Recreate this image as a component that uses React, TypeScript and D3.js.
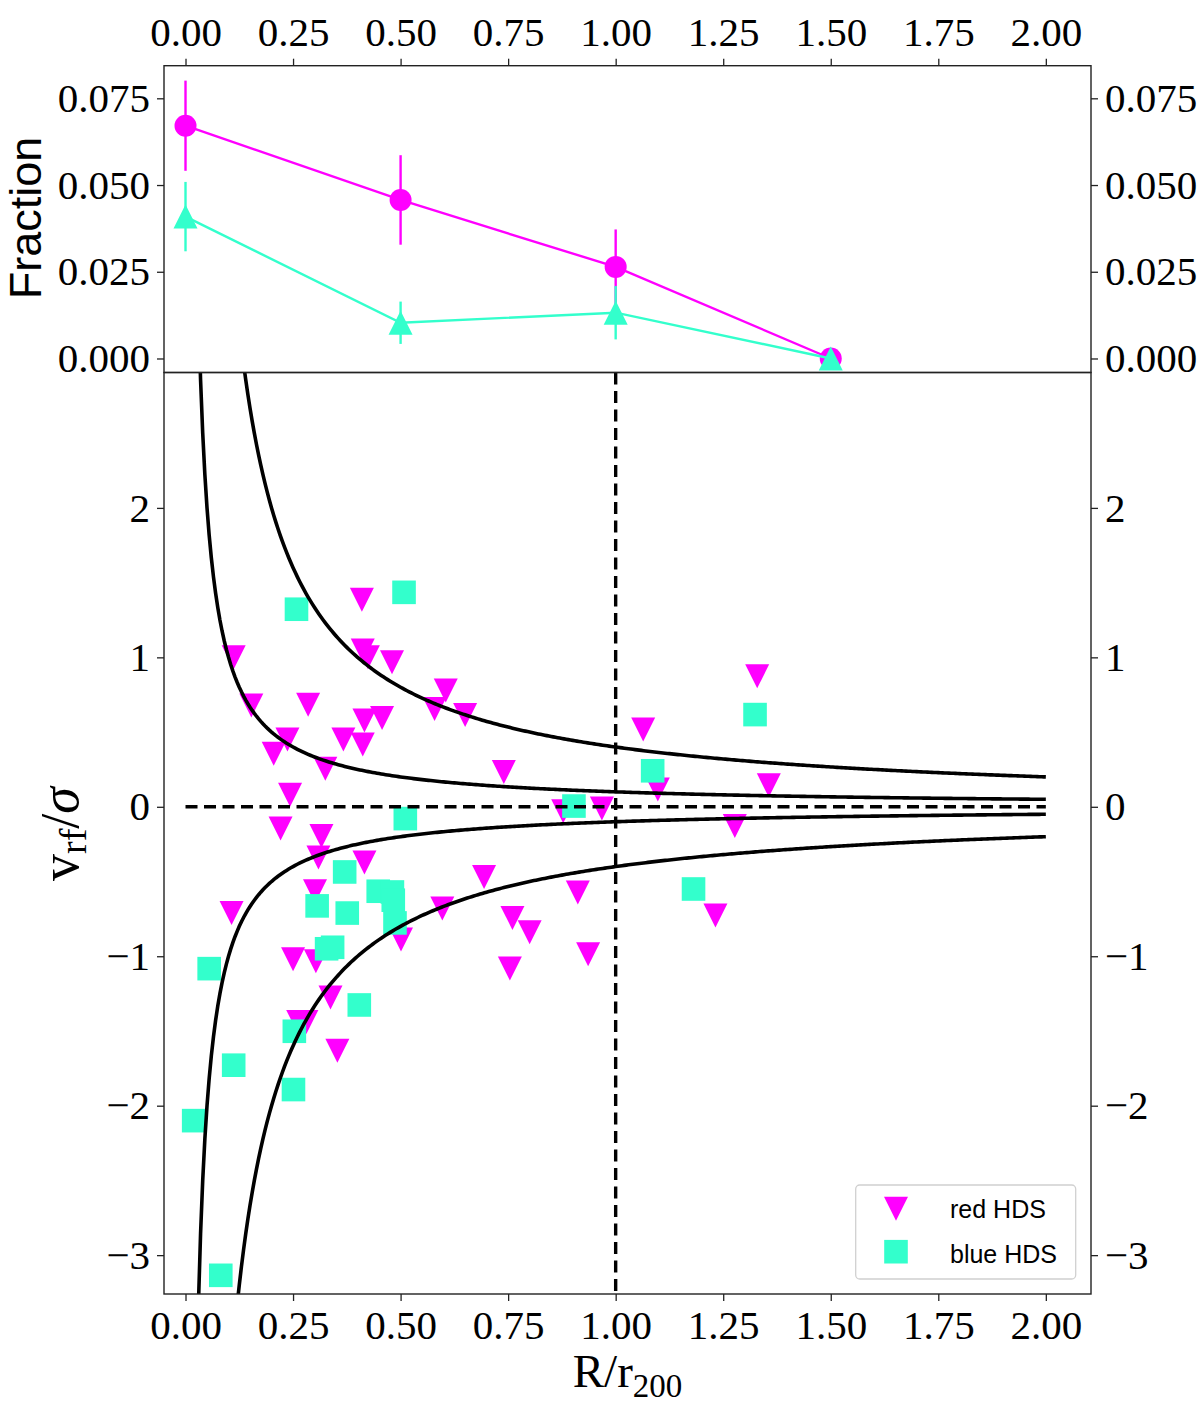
import {useEffect, useRef} from "react";
import * as d3 from "d3"

const W = 1200
const H = 1419
const frame = {left: 164, right: 1091, top: 65.7, mid: 372.5, bottom: 1294}

const magenta = "#ff00ff"
const teal = "#33ffcc"
const serif = "'Liberation Serif', 'DejaVu Serif', serif"
const sans = "'Liberation Sans', 'DejaVu Sans', sans-serif"

// top panel: fraction of HDS per radial bin
const fracR = [0, 0.5, 1.0, 1.5]
const redFrac = [0.0671, 0.0457, 0.0264, 0.0]
const redFracErr = [0.013, 0.0129, 0.0108, 0]
const blueFrac = [0.0409, 0.0103, 0.0132, 0.0]
const blueFracErr = [0.010, 0.0061, 0.0077, 0]

// bottom panel: phase space
const redR = [0.410, 0.412, 0.424, 0.480, 0.112, 0.153, 0.285, 0.605, 0.579, 0.650,
    0.416, 0.457, 0.367, 0.412, 0.237, 0.205, 0.325, 0.243, 0.221, 0.316,
    0.309, 0.416, 0.694, 0.301, 0.107, 0.597, 0.501, 0.250, 0.303, 0.337,
    0.262, 0.281, 0.353, 1.329, 1.064, 1.098, 0.740, 1.356, 0.878, 0.968,
    1.277, 0.912, 0.760, 0.800, 0.754, 0.936, 1.232]
const redV = [1.385, 1.045, 1.0, 0.967, 1.0, 0.678, 0.682, 0.778, 0.655, 0.615,
    0.577, 0.595, 0.45, 0.417, 0.45, 0.355, 0.255, 0.081, -0.146, -0.195,
    -0.34, -0.373, -0.47, -0.565, -0.71, -0.681, -0.888, -1.02, -1.033, -1.276,
    -1.44, -1.44, -1.633, 0.873, 0.518, 0.115, 0.233, 0.144, -0.03, -0.012,
    -0.128, -0.574, -0.744, -0.84, -1.082, -0.987, -0.728]
const blueR = [0.511, 0.370, 0.448, 0.481, 0.483, 0.487, 0.306, 0.376, 0.328, 0.342,
    0.055, 0.404, 0.253, 0.112, 0.251, 0.019, 0.082, 1.324, 1.086, 0.903,
    1.181, 0.258, 0.508]
const blueV = [-0.079, -0.436, -0.565, -0.57, -0.625, -0.777, -0.663, -0.711, -0.95, -0.94,
    -1.083, -1.326, -1.502, -1.729, -1.892, -2.10, -3.135, 0.617, 0.241, 0.005,
    -0.55, 1.322, 1.435]

// escape-velocity-like envelopes v = +/- k / R
const envelopeK = [0.1, 0.4]

const xTicks = [0, 0.25, 0.5, 0.75, 1, 1.25, 1.5, 1.75, 2]
const fracTicks = [0, 0.025, 0.05, 0.075]
const vTicks = [-3, -2, -1, 0, 1, 2]

const triUp = (s: number) => `M0,${-s}L${-s},${s}L${s},${s}Z`
const triDown = (s: number) => `M0,${s}L${-s},${-s}L${s},${-s}Z`

const App = () => {
    const svgRef = useRef(null)

    useEffect(() => {
        const svg = d3.select(svgRef.current)
        svg.selectAll("*").remove()

        const x = d3.scaleLinear().domain([-0.05, 2.105]).range([frame.left, frame.right])
        const yTop = d3.scaleLinear().domain([-0.00404, 0.0844]).range([frame.mid, frame.top])
        const yBot = d3.scaleLinear().domain([-3.26, 2.906]).range([frame.bottom, frame.mid])

        svg.append("clipPath").attr("id", "botClip")
            .append("rect")
            .attr("x", frame.left).attr("y", frame.mid)
            .attr("width", frame.right - frame.left).attr("height", frame.bottom - frame.mid)

        // ---------- top panel ----------
        const top = svg.append("g")
        const series = [
            {vals: redFrac, err: redFracErr, color: magenta, marker: "circle"},
            {vals: blueFrac, err: blueFracErr, color: teal, marker: "tri"},
        ]
        series.forEach(s => {
            const pts = fracR.map((r, i) => [r, s.vals[i], s.err[i]])
            top.append("path")
                .attr("d", d3.line().x(d => x(d[0])).y(d => yTop(d[1]))(pts as any))
                .attr("fill", "none").attr("stroke", s.color).attr("stroke-width", 2.4)
            top.selectAll(null).data(pts.filter(d => d[2] > 0)).join("line")
                .attr("x1", d => x(d[0])).attr("x2", d => x(d[0]))
                .attr("y1", d => yTop(d[1] - d[2])).attr("y2", d => yTop(d[1] + d[2]))
                .attr("stroke", s.color).attr("stroke-width", 2.4)
            if (s.marker === "circle") {
                top.selectAll(null).data(pts).join("circle")
                    .attr("cx", d => x(d[0])).attr("cy", d => yTop(d[1])).attr("r", 11)
                    .attr("fill", s.color)
            } else {
                top.selectAll(null).data(pts).join("path")
                    .attr("d", triUp(12))
                    .attr("transform", d => `translate(${x(d[0])},${yTop(d[1])})`)
                    .attr("fill", s.color)
            }
        })

        // ---------- bottom panel ----------
        const bot = svg.append("g")
        bot.selectAll(null).data(redR.map((r, i) => [r, redV[i]])).join("path")
            .attr("d", triDown(12))
            .attr("transform", d => `translate(${x(d[0])},${yBot(d[1])})`)
            .attr("fill", magenta)
        bot.selectAll(null).data(blueR.map((r, i) => [r, blueV[i]])).join("rect")
            .attr("x", d => x(d[0]) - 11.8).attr("y", d => yBot(d[1]) - 11.8)
            .attr("width", 23.6).attr("height", 23.6)
            .attr("fill", teal)

        const lines = bot.append("g").attr("clip-path", "url(#botClip)")
        const rGrid = d3.range(0.01, 2.0001, 0.005)
        envelopeK.forEach(k => {
            [1, -1].forEach(sign => {
                lines.append("path")
                    .attr("d", d3.line<number>().x(r => x(r)).y(r => yBot(sign * k / r))(rGrid))
                    .attr("fill", "none").attr("stroke", "black").attr("stroke-width", 3.6)
            })
        })
        lines.append("line")
            .attr("x1", x(0)).attr("x2", x(2)).attr("y1", yBot(0)).attr("y2", yBot(0))
            .attr("stroke", "black").attr("stroke-width", 3.4).attr("stroke-dasharray", "12,6.5")
        lines.append("line")
            .attr("x1", x(1)).attr("x2", x(1)).attr("y1", frame.mid).attr("y2", frame.bottom)
            .attr("stroke", "black").attr("stroke-width", 3.4).attr("stroke-dasharray", "12,6.5")

        // ---------- axes ----------
        const styleAxis = (g: any) => {
            g.select(".domain").remove()
            g.selectAll("line").attr("stroke", "#222").attr("stroke-width", 1.3)
            g.selectAll("text").attr("font-family", serif).attr("font-size", 41).attr("fill", "black")
        }
        const f2 = d3.format(".2f")
        const f3 = d3.format(".3f")

        svg.append("g").attr("transform", `translate(0,${frame.top})`)
            .call(d3.axisTop(x).tickValues(xTicks).tickFormat(f2 as any).tickSize(7).tickPadding(13))
            .call(styleAxis)
        svg.append("g").attr("transform", `translate(${frame.left},0)`)
            .call(d3.axisLeft(yTop).tickValues(fracTicks).tickFormat(f3 as any).tickSize(7).tickPadding(7))
            .call(styleAxis)
        svg.append("g").attr("transform", `translate(${frame.right},0)`)
            .call(d3.axisRight(yTop).tickValues(fracTicks).tickFormat(f3 as any).tickSize(7).tickPadding(7))
            .call(styleAxis)

        svg.append("g").attr("transform", `translate(0,${frame.bottom})`)
            .call(d3.axisBottom(x).tickValues(xTicks).tickFormat(f2 as any).tickSize(7).tickPadding(9))
            .call(styleAxis)
        svg.append("g").attr("transform", `translate(${frame.left},0)`)
            .call(d3.axisLeft(yBot).tickValues(vTicks).tickFormat(d3.format("d") as any).tickSize(7).tickPadding(7))
            .call(styleAxis)
        svg.append("g").attr("transform", `translate(${frame.right},0)`)
            .call(d3.axisRight(yBot).tickValues(vTicks).tickFormat(d3.format("d") as any).tickSize(7).tickPadding(7))
            .call(styleAxis)

        // spines
        ;[[frame.top, frame.mid], [frame.mid, frame.bottom]].forEach(([t, b]) => {
            svg.append("rect")
                .attr("x", frame.left).attr("y", t)
                .attr("width", frame.right - frame.left).attr("height", b - t)
                .attr("fill", "none").attr("stroke", "#222").attr("stroke-width", 1.4)
        })

        // ---------- labels ----------
        svg.append("text")
            .attr("transform", "translate(41,218) rotate(-90)")
            .attr("text-anchor", "middle")
            .attr("font-family", sans).attr("font-size", 45)
            .text("Fraction")

        const yl = svg.append("text")
            .attr("transform", "translate(78,834) rotate(-90)")
            .attr("text-anchor", "middle")
            .attr("font-family", serif).attr("font-size", 54)
        yl.append("tspan").text("v")
        yl.append("tspan").attr("font-size", 38).attr("dy", 8).text("rf")
        yl.append("tspan").attr("dy", -8).text("/")
        yl.append("tspan").attr("font-style", "italic").text("σ")

        const xl = svg.append("text")
            .attr("x", (frame.left + frame.right) / 2).attr("y", 1386.7)
            .attr("text-anchor", "middle")
            .attr("font-family", serif).attr("font-size", 47)
        xl.append("tspan").text("R/r")
        xl.append("tspan").attr("font-size", 33).attr("dy", 10).text("200")

        // ---------- legend ----------
        const lg = svg.append("g")
        lg.append("rect")
            .attr("x", 855.7).attr("y", 1185).attr("width", 220).attr("height", 94).attr("rx", 4)
            .attr("fill", "white").attr("fill-opacity", 0.8)
            .attr("stroke", "#d0d0d0").attr("stroke-width", 1.3)
        lg.append("path").attr("d", triDown(12)).attr("transform", "translate(896,1208.7)").attr("fill", magenta)
        lg.append("rect").attr("x", 896 - 11.8).attr("y", 1251.7 - 11.8)
            .attr("width", 23.6).attr("height", 23.6).attr("fill", teal)
        lg.append("text").attr("x", 950).attr("y", 1218.3)
            .attr("font-family", sans).attr("font-size", 25).text("red HDS")
        lg.append("text").attr("x", 950).attr("y", 1262.7)
            .attr("font-family", sans).attr("font-size", 25).text("blue HDS")
    }, []);

    return <svg ref={svgRef} width={W} height={H}
                style={{position: "absolute", left: 0, top: 0, background: "white"}}/>
}

export default App
